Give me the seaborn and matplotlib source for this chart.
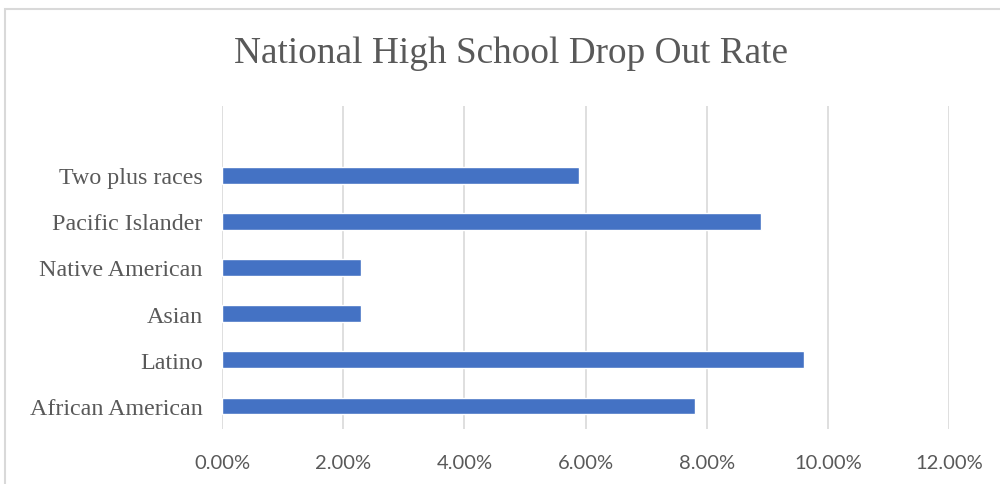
import matplotlib
matplotlib.use("Agg")
import matplotlib.pyplot as plt
from matplotlib.patches import Rectangle
from matplotlib.ticker import PercentFormatter, MultipleLocator
import seaborn as sns
import pandas as pd

categories = ["Two plus races", "Pacific Islander", "Native American",
              "Asian", "Latino", "African American"]
rates = [0.059, 0.089, 0.023, 0.023, 0.096, 0.078]
title = "National High School Drop Out Rate"

df = pd.DataFrame({"category": categories, "rate": rates})

sns.set_theme(style="white")
plt.rcParams["font.family"] = ["Liberation Serif", "DejaVu Serif"]

fig = plt.figure(figsize=(10, 4.85), dpi=100)
ax = fig.add_axes([0.222, 1 - 430 / 485, 0.949 - 0.222, (430 - 107) / 485])

sns.barplot(data=df, x="rate", y="category", order=categories, orient="h",
            color="#4472C4", saturation=1, width=0.36, ax=ax, zorder=3)

ax.set_xlim(0, 0.12)
ax.set_ylim(5.5, -1.5)
ax.xaxis.set_major_locator(MultipleLocator(0.02))
ax.xaxis.set_major_formatter(PercentFormatter(xmax=1, decimals=2))
ax.grid(axis="x", color="#d9d9d9", linewidth=1.2, zorder=0)
ax.grid(axis="y", visible=False)
for s in ax.spines.values():
    s.set_visible(False)
ax.set_xlabel("")
ax.set_ylabel("")
ax.tick_params(axis="x", length=0, pad=18, labelcolor="#595959")
ax.tick_params(axis="y", length=0, pad=14, labelcolor="#595959")
for lab in ax.get_xticklabels():
    lab.set_fontfamily(["Lato", "DejaVu Sans"])
    lab.set_fontsize(14.5)
for lab in ax.get_yticklabels():
    lab.set_fontfamily(["Liberation Serif", "DejaVu Serif"])
    lab.set_fontsize(17.3)

fig.text(0.511, 1 - 54 / 485, title, ha="center", va="center",
         fontsize=26.8, color="#595959", family=["Liberation Serif", "DejaVu Serif"])

top = 1 - 10 / 485
fig.patches.append(Rectangle((0.005, -0.1), 1.2, top + 0.1,
                             transform=fig.transFigure, fill=False,
                             edgecolor="#d9d9d9", linewidth=1.5))

fig.savefig("out.png", dpi=100, facecolor="white")
